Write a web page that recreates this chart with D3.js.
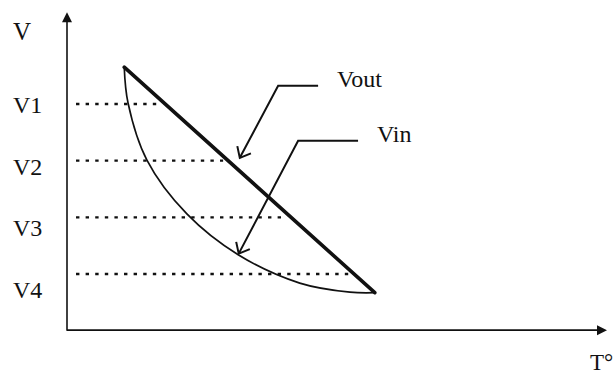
<!DOCTYPE html>
<html>
<head>
<meta charset="utf-8">
<script src="https://cdn.jsdelivr.net/npm/d3@7"></script>
<style>
  html, body { margin: 0; padding: 0; background: #fff; }
  svg { display: block; }
  text { font-family: "Liberation Serif", "DejaVu Serif", serif; fill: #111; }
</style>
</head>
<body>
<svg id="chart" width="616" height="375"></svg>
<script>
// ---- Data ----
const levelLabels = ["V1", "V2", "V3", "V4"];
const levelValues = [4, 3, 2, 1];

// Vout: straight line (temperature, voltage)
const voutT = [10.6, 57];
const voutV = [4.65, 0.67];

// Vin: curved line
const vinT = [10.6, 11.3, 14.8, 22.2, 31.7, 43.1, 52.4, 57];
const vinV = [4.65, 4.02, 3.01, 2.06, 1.34, 0.84, 0.68, 0.67];

const axisLabels = { y: "V", x: "T°" };

// annotations in data coordinates
const annotations = [
  { text: "Vout", tip: [32.0, 3.05], elbow: [39.1, 4.32], end: [46.5, 4.32], label: [50.0, 4.30] },
  { text: "Vin",  tip: [31.8, 1.36], elbow: [42.8, 3.35], end: [53.9, 3.35], label: [57.4, 3.33] }
];

// ---- Layout ----
const svg = d3.select("#chart");
const x = d3.scaleLinear().domain([0, 100]).range([67, 607]);
const y = d3.scaleLinear().domain([0, 5]).range([330.67, 47.33]);

const ink = "#111";

// axes
const yTop = y(5.62), xRight = x(100);
svg.append("line").attr("x1", x(0)).attr("x2", x(0)).attr("y1", y(0)).attr("y2", yTop + 4)
  .attr("stroke", ink).attr("stroke-width", 1.6);
svg.append("path")
  .attr("d", `M${x(0)},${yTop} L${x(0) - 5},${yTop + 10} L${x(0) + 5},${yTop + 10} Z`)
  .attr("fill", ink);
svg.append("line").attr("x1", x(0)).attr("x2", xRight - 4).attr("y1", y(0) - 0.5).attr("y2", y(0) - 0.5)
  .attr("stroke", ink).attr("stroke-width", 1.8);
svg.append("path")
  .attr("d", `M${xRight},${y(0) - 0.5} L${xRight - 10},${y(0) - 5.5} L${xRight - 10},${y(0) + 4.5} Z`)
  .attr("fill", ink);

// axis labels
svg.append("text").attr("x", 13).attr("y", 40).attr("font-size", 25).text(axisLabels.y);
svg.append("text").attr("x", 590).attr("y", 370).attr("font-size", 23).text(axisLabels.x);

// Vout line helpers
const slope = (voutV[1] - voutV[0]) / (voutT[1] - voutT[0]);
const tAtV = v => voutT[0] + (v - voutV[0]) / slope;

// dotted level lines and labels
levelValues.forEach((v, i) => {
  svg.append("line")
    .attr("x1", x(1.67)).attr("x2", x(tAtV(v)) - 5)
    .attr("y1", y(v)).attr("y2", y(v))
    .attr("stroke", ink).attr("stroke-width", 2.4)
    .attr("stroke-dasharray", "3.4,6.2");
  svg.append("text")
    .attr("x", 13).attr("y", y(v) + 9 + 5 * i)
    .attr("font-size", 24)
    .text(levelLabels[i]);
});

// Vin curve
const vinPts = vinT.map((t, i) => [t, vinV[i]]);
svg.append("path")
  .attr("d", d3.line().x(d => x(d[0])).y(d => y(d[1])).curve(d3.curveCatmullRom.alpha(0.5))(vinPts))
  .attr("fill", "none").attr("stroke", ink).attr("stroke-width", 1.7);

// Vout line
const voutPts = voutT.map((t, i) => [t, voutV[i]]);
svg.append("path")
  .attr("d", d3.line().x(d => x(d[0])).y(d => y(d[1]))(voutPts))
  .attr("fill", "none").attr("stroke", ink).attr("stroke-width", 3.6)
  .attr("stroke-linecap", "round");

// annotations
annotations.forEach(a => {
  const tip = [x(a.tip[0]), y(a.tip[1])];
  const elb = [x(a.elbow[0]), y(a.elbow[1])];
  const end = [x(a.end[0]), y(a.end[1])];
  svg.append("path")
    .attr("d", `M${end[0]},${end[1]} L${elb[0]},${elb[1]} L${tip[0]},${tip[1]}`)
    .attr("fill", "none").attr("stroke", ink).attr("stroke-width", 2);
  const ang = Math.atan2(elb[1] - tip[1], elb[0] - tip[0]);
  const L = 12, spread = 40 * Math.PI / 180;
  const a1 = [tip[0] + L * Math.cos(ang - spread), tip[1] + L * Math.sin(ang - spread)];
  const a2 = [tip[0] + L * Math.cos(ang + spread), tip[1] + L * Math.sin(ang + spread)];
  svg.append("path")
    .attr("d", `M${a1[0]},${a1[1]} L${tip[0]},${tip[1]} L${a2[0]},${a2[1]}`)
    .attr("fill", "none").attr("stroke", ink).attr("stroke-width", 2);
  svg.append("text")
    .attr("x", x(a.label[0])).attr("y", y(a.label[1]))
    .attr("font-size", 24).text(a.text);
});
</script>
</body>
</html>
